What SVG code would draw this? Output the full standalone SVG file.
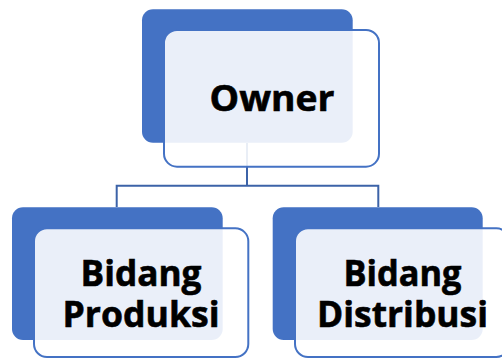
<svg xmlns="http://www.w3.org/2000/svg" width="502" height="360" viewBox="0 0 502 360">
<style>
.back{fill:#4472C4;}
.front{fill:#FFFFFF;fill-opacity:0.89;stroke:#4472C4;stroke-width:2;}
.lbl{font-family:"Open Sans","DejaVu Sans",sans-serif;font-weight:bold;font-size:36px;fill:#000000;stroke:#000000;stroke-width:0.6;text-anchor:middle;}
.conn{fill:none;stroke:#3C63A8;stroke-width:2;}
</style>
<rect width="502" height="360" fill="#FFFFFF"/>
<g id="connectors">
<path class="conn" d="M247,143 V185.7 M116.7,185.7 H378.3 M116.7,184.7 V207 M378.3,184.7 V207"/>
</g>
<g id="owner">
<rect class="back" x="142" y="9.3" width="210.7" height="133.4" rx="11"/>
<rect class="front" x="164" y="30" width="215" height="136.7" rx="13"/>
<text class="lbl" x="272" y="110.5" textLength="125" lengthAdjust="spacingAndGlyphs">Owner</text>
</g>
<g id="produksi">
<rect class="back" x="12" y="207.3" width="210.7" height="132.7" rx="11"/>
<rect class="front" x="34" y="228.3" width="214.3" height="128.7" rx="13"/>
<text class="lbl"><tspan x="141" y="286" textLength="121" lengthAdjust="spacingAndGlyphs">Bidang</tspan><tspan x="141" y="327" textLength="157" lengthAdjust="spacingAndGlyphs">Produksi</tspan></text>
</g>
<g id="distribusi">
<rect class="back" x="272.7" y="207.3" width="210" height="132.7" rx="11"/>
<rect class="front" x="295" y="228.3" width="214.3" height="128.7" rx="13"/>
<text class="lbl"><tspan x="402.5" y="286" textLength="118" lengthAdjust="spacingAndGlyphs">Bidang</tspan><tspan x="402.5" y="327" textLength="171" lengthAdjust="spacingAndGlyphs">Distribusi</tspan></text>
</g>
</svg>
